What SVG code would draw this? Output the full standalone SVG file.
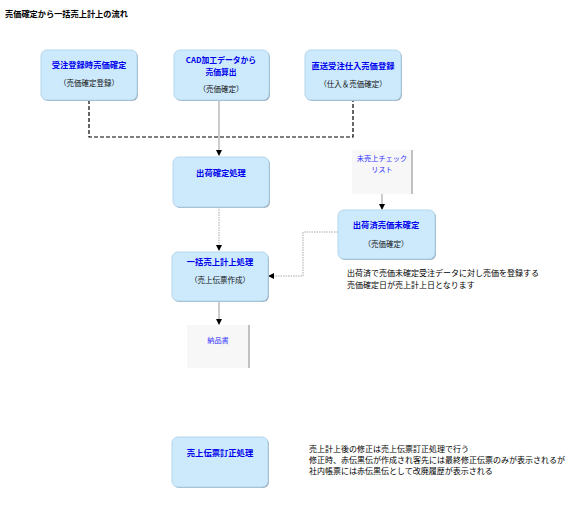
<svg xmlns="http://www.w3.org/2000/svg" width="584" height="529" viewBox="0 0 584 529">
<style>
text{font-family:"Noto Sans CJK JP","Liberation Sans",sans-serif;}
.t{font-size:8.2px;font-weight:bold;fill:#000;}
.h{font-size:8.3px;font-weight:bold;fill:#0000ee;text-anchor:middle;}
.h2{font-size:7.8px;}
.s{font-size:7.5px;fill:#111;text-anchor:middle;}
.d{font-size:7.2px;fill:#3030ff;text-anchor:middle;}
.n{font-size:8px;fill:#000;}
.box{fill:#cdeafc;stroke:#b3d6ec;stroke-width:1;}
.sh{fill:#9aaab8;}
.doc{fill:#f7f7f7;}
.docb{stroke:#888;stroke-width:1;}
.c{fill:none;stroke:#999;stroke-width:1;}
.cd{fill:none;stroke:#aaa;stroke-width:1;stroke-dasharray:1.5,1;}
.dash{fill:none;stroke:#000;stroke-width:1.2;stroke-dasharray:4,2;}
</style>
<defs>
<marker id="ar" viewBox="0 0 6 6" refX="5" refY="3" markerWidth="6" markerHeight="6" orient="auto" markerUnits="userSpaceOnUse">
<path d="M0,0 L6,3 L0,6 z" fill="#000"/>
</marker>
</defs>
<rect width="584" height="529" fill="#fff"/>
<text class="t" x="5" y="17">売価確定から一括売上計上の流れ</text>
<g id="connectors">
<path class="dash" d="M89,100 V137 H353 V100"/>
<path class="c" d="M219,100 V155" marker-end="url(#ar)"/>
<path class="cd" d="M219,207 V250" marker-end="url(#ar)"/>
<path class="c" d="M382,194 V209" marker-end="url(#ar)"/>
<path class="cd" d="M338,232 H303 V276 H269" marker-end="url(#ar)"/>
<path class="c" d="M219,301 V324" marker-end="url(#ar)"/>
</g>
<g id="n1">
<rect class="sh" x="42" y="51" width="96" height="50" rx="6"/>
<rect class="box" x="41" y="50" width="96" height="50" rx="6"/>
<text class="h" x="89" y="68">受注登録時売価確定</text>
<text class="s" x="89" y="86">（売価確定登録）</text>
</g>
<g id="n2">
<rect class="sh" x="175" y="51" width="95" height="50" rx="6"/>
<rect class="box" x="174" y="50" width="95" height="50" rx="6"/>
<text class="h h2" x="221" y="63">CAD加工データから</text>
<text class="h h2" x="221" y="74.5">売価算出</text>
<text class="s" x="221" y="92">（売価確定）</text>
</g>
<g id="n3">
<rect class="sh" x="306" y="51" width="96" height="50" rx="6"/>
<rect class="box" x="305" y="50" width="96" height="50" rx="6"/>
<text class="h" x="353" y="69">直送受注仕入売価登録</text>
<text class="s" x="353" y="87">（仕入＆売価確定）</text>
</g>
<g id="n4">
<rect class="sh" x="174" y="158" width="96" height="50" rx="6"/>
<rect class="box" x="173" y="157" width="96" height="50" rx="6"/>
<text class="h" x="221" y="176">出荷確定処理</text>
</g>
<g id="n5">
<rect class="doc" x="352" y="150" width="60" height="44"/>
<line class="docb" x1="412" y1="150" x2="412" y2="194"/>
<text class="d" x="382" y="160.5">未売上チェック</text>
<text class="d" x="382" y="171.5">リスト</text>
</g>
<g id="n6">
<rect class="sh" x="339" y="211" width="97" height="49" rx="6"/>
<rect class="box" x="338" y="210" width="97" height="49" rx="6"/>
<text class="h" x="386" y="228">出荷済売価未確定</text>
<text class="s" x="386" y="247">（売価確定）</text>
<text class="n" x="347" y="276">出荷済で売価未確定受注データに対し売価を登録する</text>
<text class="n" x="347" y="287.5">売価確定日が売上計上日となります</text>
</g>
<g id="n7">
<rect class="sh" x="173" y="253" width="96" height="49" rx="6"/>
<rect class="box" x="172" y="252" width="96" height="49" rx="6"/>
<text class="h" x="220" y="265">一括売上計上処理</text>
<text class="s" x="220" y="283">（売上伝票作成）</text>
</g>
<g id="n8">
<rect class="doc" x="187" y="325" width="62" height="43"/>
<line class="docb" x1="249" y1="325" x2="249" y2="368"/>
<text class="d" x="218" y="343">納品書</text>
</g>
<g id="n9">
<rect class="sh" x="173" y="438" width="96" height="50" rx="6"/>
<rect class="box" x="172" y="437" width="96" height="50" rx="6"/>
<text class="h" x="220" y="456">売上伝票訂正処理</text>
<text class="n" x="309" y="452">売上計上後の修正は売上伝票訂正処理で行う</text>
<text class="n" x="309" y="463">修正時、赤伝黒伝が作成され客先には最終修正伝票のみが表示されるが</text>
<text class="n" x="309" y="474">社内帳票には赤伝黒伝として改廃履歴が表示される</text>
</g>
</svg>
